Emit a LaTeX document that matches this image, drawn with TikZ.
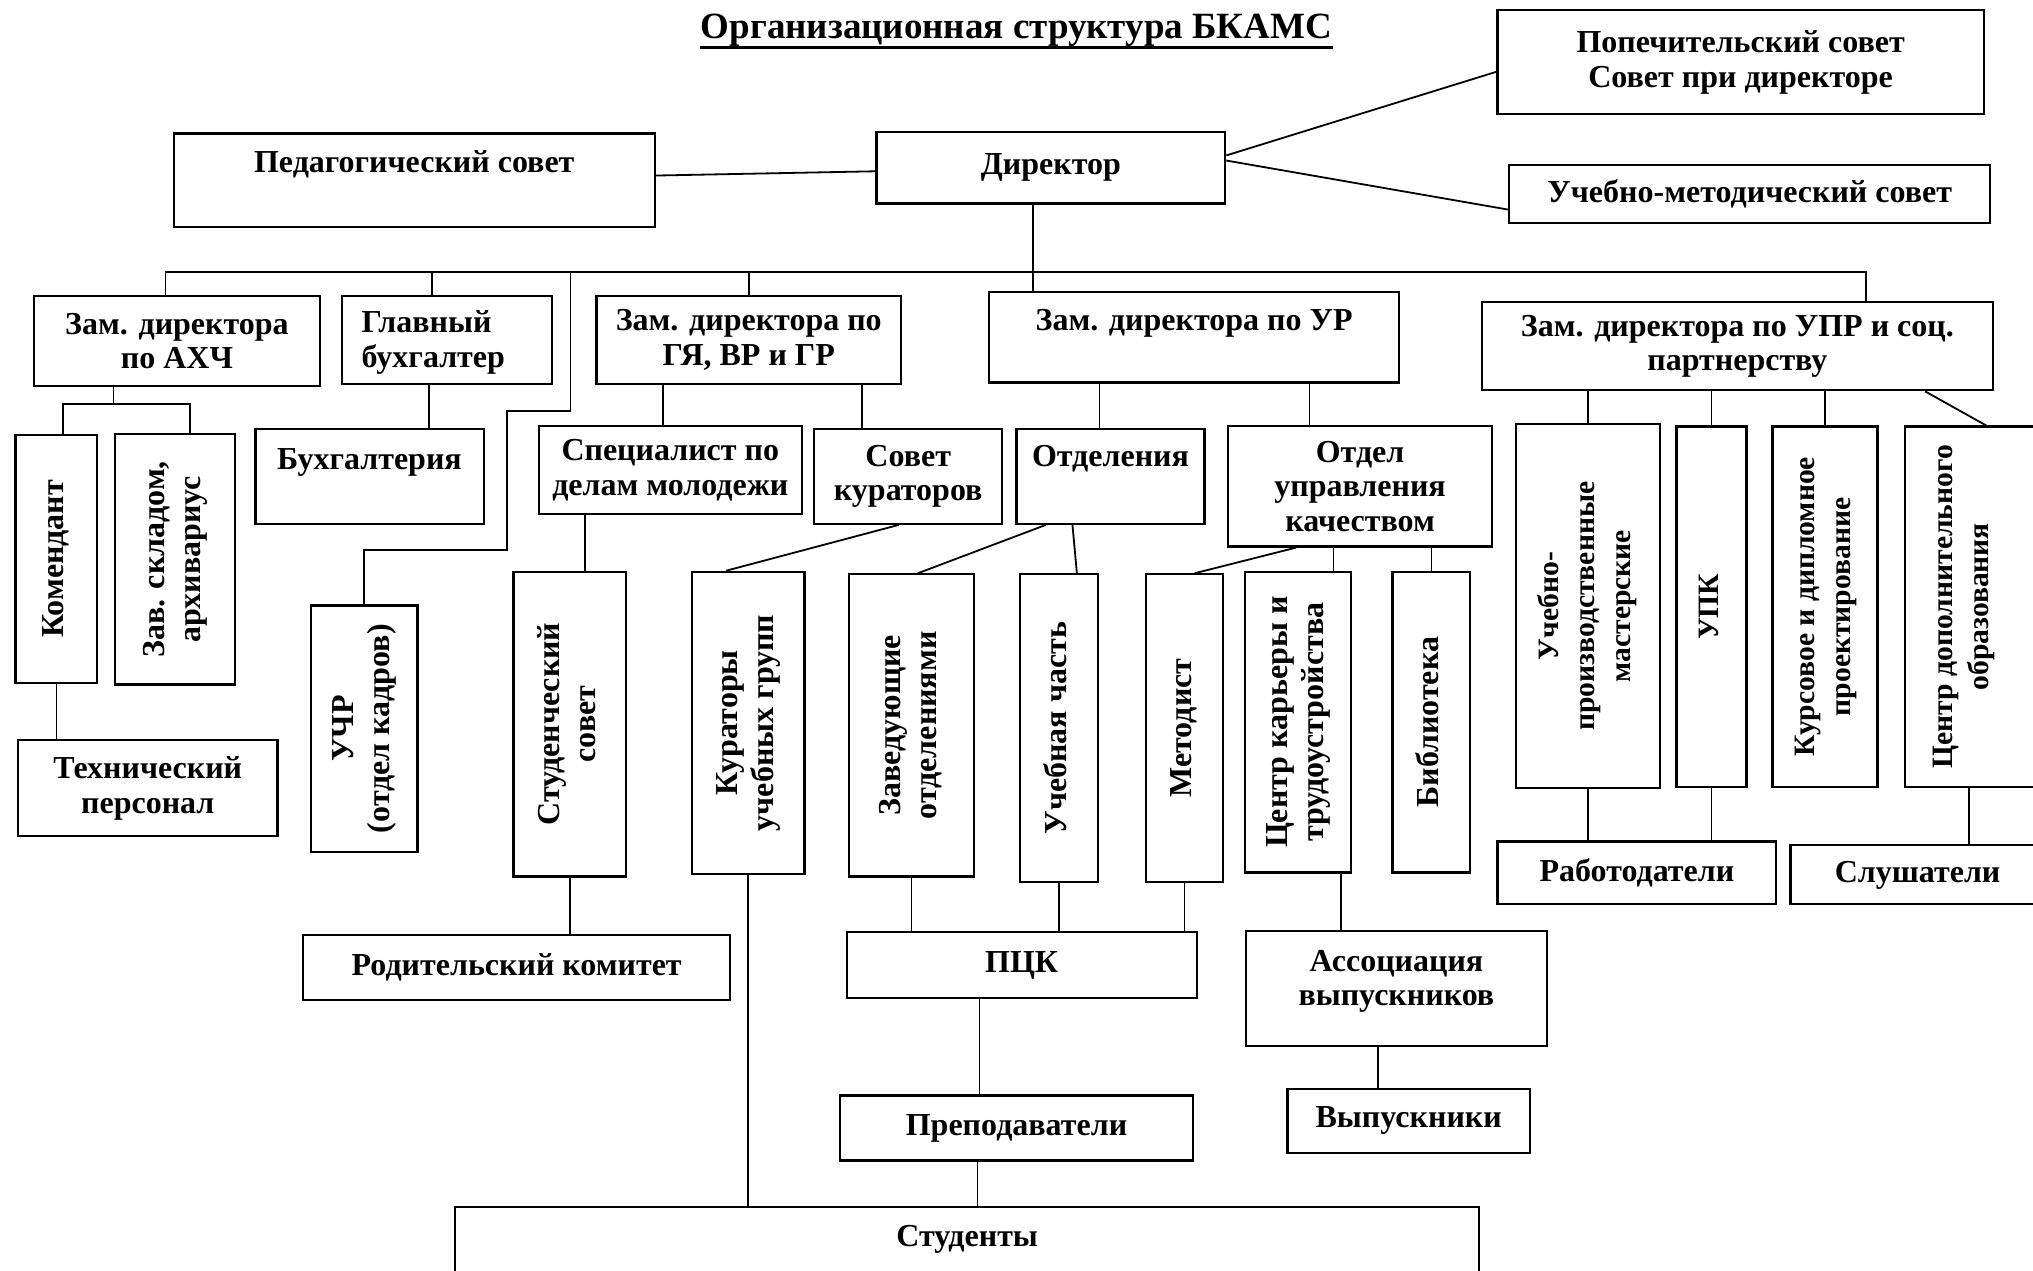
\documentclass[tikz,border=0pt]{standalone}
\usepackage{fontspec}
\setmainfont{Liberation Serif}
\usetikzlibrary{calc,positioning}
\newcommand{\hfont}{\fontsize{16}{17.2}\selectfont\bfseries}
\newcommand{\ttlfont}{\fontsize{18.5}{21}\selectfont\bfseries}
\newcommand{\vlabel}[1]{\rotatebox{90}{\fontsize{16}{18}\selectfont\bfseries\begin{tabular}{@{}c@{}}#1\end{tabular}}}
\newcommand{\vlabelsm}[1]{\rotatebox{90}{\fontsize{14.8}{18}\selectfont\bfseries\begin{tabular}{@{}c@{}}#1\end{tabular}}}
\begin{document}
\begin{tikzpicture}[x=0.6483pt,y=-0.6483pt,line join=miter,
  box/.style 2 args={draw,line width=1.1pt,inner sep=0pt,minimum width=#1*0.6483pt,minimum height=#2*0.6483pt,align=center,font=\hfont},
  txt/.style={inner sep=0pt,align=center,font=\hfont},
  link/.style={line width=0.9pt}]
\useasboundingbox (0,0) rectangle (1568,980);
% title
\node[txt,font=\ttlfont,anchor=base] (title) at (784,30) {Организационная структура БКАМС};
\draw[line width=1.5pt] ([yshift=-4.3pt]title.base west) -- ([yshift=-4.3pt]title.base east);
% top level
\node[box={375}{80}] (pop) at (1342.5,48) {Попечительский совет\\Совет при директоре};
\node[box={269}{55}] (dir) at (810.5,129.5) {Директор};
\node[box={371}{72}] (ped) at (319.5,139) {};
\node[txt,anchor=base] (ped-t) at ($(ped.north)+(0,31)$) {Педагогический совет};
\node[box={371}{45}] (ums) at (1349.5,149.5) {Учебно-методический совет};
% deputies
\node[box={221}{70}] (axch) at (136.5,263) {Зам. директора\\по АХЧ};
\node[box={162}{68}] (buh) at (344.5,262) {};
\node[txt,align=left,anchor=west] (buh-t) at ($(buh.west)+(16,2)$) {Главный\\бухгалтер};
\node[box={235}{68}] (gya) at (577.5,262) {Зам. директора по\\ГЯ, ВР и ГР};
\node[box={316}{70}] (ur) at (921,260) {};
\node[txt,anchor=base] (ur-t) at ($(ur.north)+(0,31)$) {Зам. директора по УР};
\node[box={394}{68}] (upr) at (1340,267) {Зам. директора по УПР и соц.\\партнерству};
% third row
\node[box={63}{191}] (kom) at (43.5,431) {\vlabel{Комендант}};
\node[box={92}{193}] (zav) at (135,431.5) {\vlabel{Зав. складом,\\архивариус}};
\node[box={200}{74}] (tech) at (114,608) {Технический\\персонал};
\node[box={176}{73}] (buhg) at (285,367.5) {};
\node[txt,anchor=base] (buhg-t) at ($(buhg.north)+(0,32)$) {Бухгалтерия};
\node[box={82}{190}] (uchr) at (281,562) {\vlabel{УЧР\\(отдел кадров)}};
\node[box={203}{68}] (spec) at (517,362.5) {Специалист по\\делам молодежи};
\node[box={145}{73}] (sovk) at (700.5,367.5) {Совет\\кураторов};
\node[box={145}{73}] (otd) at (856.5,367.5) {};
\node[txt,anchor=base] (otd-t) at ($(otd.north)+(0,30)$) {Отделения};
\node[box={204}{93}] (ouk) at (1049,375) {Отдел\\управления\\качеством};
% vertical boxes
\node[box={87}{235}] (stud) at (439.5,558.5) {\vlabel{Студенческий\\совет}};
\node[box={87}{233}] (kur) at (577,557.5) {\vlabel{Кураторы\\учебных групп}};
\node[box={96}{233}] (zavo) at (703,559.5) {\vlabel{Заведующие\\отделениями}};
\node[box={60}{237}] (uch) at (817,561.5) {\vlabel{Учебная часть}};
\node[box={59}{237}] (met) at (913.5,561.5) {\vlabel{Методист}};
\node[box={82}{232}] (cent) at (1001,557) {\vlabel{Центр карьеры и\\трудоустройства}};
\node[box={60}{232}] (bib) at (1104,557) {\vlabel{Библиотека}};
\node[box={111}{281}] (upm) at (1224.5,467.5) {\vlabelsm{Учебно-\\производственные\\мастерские}};
\node[box={54}{278}] (upk) at (1320,468) {\vlabelsm{УПК}};
\node[box={81}{278}] (kurs) at (1407.5,468) {\vlabelsm{Курсовое и дипломное\\проектирование}};
\node[box={131}{278}] (cdo) at (1534.5,468) {};
\node[txt] (cdo-t) at (1514,468) {\vlabelsm{Центр дополнительного\\образования}};
% lower boxes
\node[box={215}{48}] (rab) at (1262.5,673) {Работодатели};
\node[box={219}{45}] (slu) at (1490.5,674.5) {};
\node[txt] (slu-t) at (1479,675) {Слушатели};
\node[box={329}{50}] (rod) at (398.5,746) {Родительский комитет};
\node[box={270}{51}] (pck) at (788,744.5) {ПЦК};
\node[box={232}{89}] (assoc) at (1077,762.5) {};
\node[txt] (assoc-t) at (1077,757) {Ассоциация\\выпускников};
\node[box={272}{50}] (prep) at (784,870) {Преподаватели};
\node[box={187}{49}] (vyp) at (1086.5,864.5) {Выпускники};
\node[box={790}{80}] (studs) at (746,971) {};
\node[txt,anchor=base] (studs-t) at ($(studs.north)+(0,31)$) {Студенты};
% director links
\draw[link] (ped) -- (dir);
\draw[link] ($(dir.north east)!0.33!(dir.south east)$) -- ($(pop.north west)!0.59!(pop.south west)$);
\draw[link] ($(dir.north east)!0.4!(dir.south east)$) -- ($(ums.north west)!0.76!(ums.south west)$);
\coordinate (dir-out) at ($(dir.south west)!0.45!(dir.south east)$);
\draw[link] (dir-out) -- (dir-out |- ur.north);
% bus
\coordinate (bus) at (0,210);
\coordinate (ax-in) at ($(axch.north west)!0.46!(axch.north east)$);
\coordinate (upr-in) at ($(upr.north west)!0.75!(upr.north east)$);
\draw[link] (ax-in) -- (ax-in |- bus) -- (upr-in |- bus) -- (upr-in);
\coordinate (buh-in) at ($(buh.north west)!0.43!(buh.north east)$);
\draw[link] (buh-in) -- (buh-in |- bus);
\draw[link] (gya.north) -- (gya.north |- bus);
\coordinate (kadr-a) at (440,317);
\coordinate (kadr-b) at (391,424);
\draw[link] (uchr.north) |- (kadr-b) |- (kadr-a) -- (kadr-a |- bus);
% AXCH
\coordinate (ax-out) at ($(axch.south west)!0.28!(axch.south east)$);
\coordinate (ax-fork) at ($(ax-out)+(0,13)$);
\coordinate (kom-in) at ($(kom.north west)!0.58!(kom.north east)$);
\coordinate (zav-in) at ($(zav.north west)!0.62!(zav.north east)$);
\draw[link] (ax-out) -- (ax-fork);
\draw[link] (kom-in) |- (ax-fork) -| (zav-in);
\draw[link] (kom.south) -- (kom.south |- tech.north);
\coordinate (buh-out) at ($(buh.south west)!0.415!(buh.south east)$);
\draw[link] (buh-out) -- (buh-out |- buhg.north);
% GYa, UR, UPR
\coordinate (gya-l) at ($(gya.south west)!0.22!(gya.south east)$);
\coordinate (gya-r) at ($(gya.south west)!0.87!(gya.south east)$);
\draw[link] (gya-l) -- (gya-l |- spec.north);
\draw[link] (gya-r) -- (gya-r |- sovk.north);
\coordinate (ur-l) at ($(ur.south west)!0.27!(ur.south east)$);
\coordinate (ur-r) at ($(ur.south west)!0.78!(ur.south east)$);
\draw[link] (ur-l) -- (ur-l |- otd.north);
\draw[link] (ur-r) -- (ur-r |- ouk.north);
\draw[link] (upm.north |- upr.south) -- (upm.north);
\draw[link] (upk.north |- upr.south) -- (upk.north);
\draw[link] (kurs.north |- upr.south) -- (kurs.north);
\draw[link] ($(upr.south west)!0.866!(upr.south east)$) -- ($(cdo.north west)!0.48!(cdo.north east)$);
% middle
\coordinate (spec-out) at ($(spec.south west)!0.18!(spec.south east)$);
\draw[link] (spec-out) -- (spec-out |- stud.north);
\draw[link] ($(sovk.south west)!0.45!(sovk.south east)$) -- ($(kur.north west)!0.31!(kur.north east)$);
\draw[link] ($(otd.south west)!0.16!(otd.south east)$) -- ($(zavo.north west)!0.55!(zavo.north east)$);
\draw[link] ($(otd.south west)!0.3!(otd.south east)$) -- ($(uch.north west)!0.72!(uch.north east)$);
\draw[link] ($(ouk.south west)!0.26!(ouk.south east)$) -- ($(met.north west)!0.63!(met.north east)$);
\coordinate (ouk-m) at ($(ouk.south west)!0.4!(ouk.south east)$);
\draw[link] (ouk-m) -- (ouk-m |- cent.north);
\draw[link] (bib.north |- ouk.south) -- (bib.north);
% bottom
\draw[link] (stud.south) -- (stud.south |- rod.north);
\draw[link] (kur.south) -- (kur.south |- studs.north);
\draw[link] (zavo.south) -- (zavo.south |- pck.north);
\draw[link] (uch.south) -- (uch.south |- pck.north);
\draw[link] (met.south) -- (met.south |- pck.north);
\coordinate (cent-out) at ($(cent.south west)!0.9!(cent.south east)$);
\draw[link] (cent-out) -- (cent-out |- assoc.north);
\coordinate (pck-out) at ($(pck.south west)!0.38!(pck.south east)$);
\draw[link] (pck-out) -- (pck-out |- prep.north);
\coordinate (assoc-out) at ($(assoc.south west)!0.44!(assoc.south east)$);
\draw[link] (assoc-out) -- (assoc-out |- vyp.north);
\coordinate (prep-out) at ($(prep.south west)!0.39!(prep.south east)$);
\draw[link] (prep-out) -- (prep-out |- studs.north);
\draw[link] (upm.south) -- (upm.south |- rab.north);
\draw[link] (upk.south) -- (upk.south |- rab.north);
\coordinate (cdo-out) at ($(cdo.south west)!0.38!(cdo.south east)$);
\draw[link] (cdo-out) -- (cdo-out |- slu.north);
\end{tikzpicture}
\end{document}
